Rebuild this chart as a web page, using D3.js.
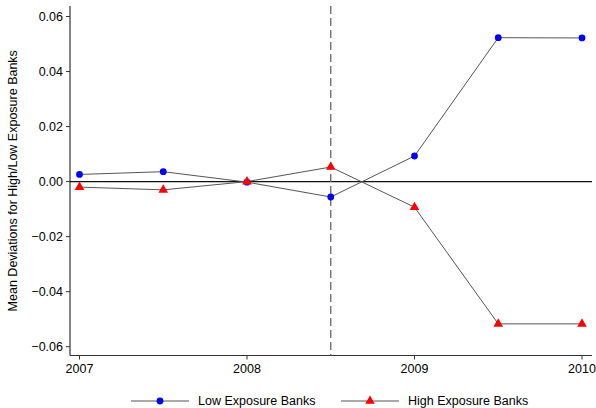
<!DOCTYPE html>
<html>
<head>
<meta charset="utf-8">
<script src="https://cdn.jsdelivr.net/npm/d3@7"></script>
<style>
  body { margin: 0; background: #fff; }
  text { font-family: "Liberation Sans", Arial, sans-serif; fill: #000; }
</style>
</head>
<body>
<svg id="chart" width="596" height="408"></svg>
<script>
// data
const periods = [2007, 2007.5, 2008, 2008.5, 2009, 2009.5, 2010];
const lowExposure = [0.0026, 0.0036, -0.0002, -0.0056, 0.0093, 0.0523, 0.0522];
const highExposure = [-0.0020, -0.0030, 0.0000, 0.0053, -0.0093, -0.0517, -0.0517];
const xTickValues = [2007, 2008, 2009, 2010];
const yTickValues = [-0.06, -0.04, -0.02, 0, 0.02, 0.04, 0.06];
const eventDate = 2008.5;
const seriesNames = ['Low Exposure Banks', 'High Exposure Banks'];

const svg = d3.select('#chart');
const plot = { left: 70, right: 592, top: 6, bottom: 355.5 };
const fontSize = '12.5px';

const x = d3.scaleLinear().domain([2007, 2010]).range([79.5, 582]);
const y = d3.scaleLinear().domain([-0.06, 0.06]).range([346.7, 16.5]);

// axes
const yAxis = svg.append('g').attr('transform', `translate(${plot.left},0)`);
yAxis.append('line')
    .attr('x1', 0).attr('x2', 0).attr('y1', plot.top).attr('y2', plot.bottom)
    .attr('stroke', '#333').attr('stroke-width', 1.2);
yTickValues.forEach(v => {
    yAxis.append('line')
        .attr('x1', -4).attr('x2', 0).attr('y1', y(v)).attr('y2', y(v))
        .attr('stroke', '#333');
    yAxis.append('text')
        .attr('x', -7).attr('y', y(v)).attr('dy', '0.35em')
        .attr('text-anchor', 'end').attr('font-size', fontSize)
        .text(d3.format('.2f')(v));
});

const xAxis = svg.append('g').attr('transform', `translate(0,${plot.bottom})`);
xAxis.append('line')
    .attr('x1', plot.left).attr('x2', plot.right).attr('y1', 0).attr('y2', 0)
    .attr('stroke', '#333').attr('stroke-width', 1.2);
xTickValues.forEach(v => {
    xAxis.append('line')
        .attr('x1', x(v)).attr('x2', x(v)).attr('y1', 0).attr('y2', 4)
        .attr('stroke', '#333');
    xAxis.append('text')
        .attr('x', x(v)).attr('y', 17)
        .attr('text-anchor', 'middle').attr('font-size', fontSize)
        .text(v);
});

svg.append('text')
    .attr('transform', `translate(17,${(plot.top + plot.bottom) / 2}) rotate(-90)`)
    .attr('text-anchor', 'middle').attr('font-size', fontSize)
    .text('Mean Deviations for High/Low Exposure Banks');

// zero line
svg.append('line')
    .attr('x1', plot.left).attr('x2', plot.right).attr('y1', y(0)).attr('y2', y(0))
    .attr('stroke', '#111').attr('stroke-width', 1.2);

// event line
svg.append('line')
    .attr('x1', x(eventDate)).attr('x2', x(eventDate)).attr('y1', plot.top).attr('y2', plot.bottom)
    .attr('stroke', '#666').attr('stroke-width', 1.3)
    .attr('stroke-dasharray', '8,4');

const line = d3.line()
    .x((d, i) => x(periods[i]))
    .y(d => y(d));

svg.append('path')
    .datum(lowExposure)
    .attr('d', line)
    .attr('fill', 'none').attr('stroke', '#555').attr('stroke-width', 1);
svg.append('path')
    .datum(highExposure)
    .attr('d', line)
    .attr('fill', 'none').attr('stroke', '#555').attr('stroke-width', 1);

const circle = d3.symbol().type(d3.symbolCircle).size(36);
const triangle = d3.symbol().type(d3.symbolTriangle).size(40);

svg.selectAll('.low-pt')
    .data(lowExposure)
    .enter().append('path')
    .attr('class', 'low-pt')
    .attr('transform', (d, i) => `translate(${x(periods[i])},${y(d)})`)
    .attr('d', circle)
    .attr('fill', '#0000ff');

svg.selectAll('.high-pt')
    .data(highExposure)
    .enter().append('path')
    .attr('class', 'high-pt')
    .attr('transform', (d, i) => `translate(${x(periods[i])},${y(d)})`)
    .attr('d', triangle)
    .attr('fill', '#ff0000');

// legend
const legendY = 401;
const legend = [
    { name: seriesNames[0], x0: 131, sym: circle, color: '#0000ff' },
    { name: seriesNames[1], x0: 341, sym: triangle, color: '#ff0000' }
];
legend.forEach(l => {
    svg.append('line')
        .attr('x1', l.x0).attr('x2', l.x0 + 58).attr('y1', legendY).attr('y2', legendY)
        .attr('stroke', '#555');
    svg.append('path')
        .attr('transform', `translate(${l.x0 + 29},${legendY})`)
        .attr('d', l.sym)
        .attr('fill', l.color);
    svg.append('text')
        .attr('x', l.x0 + 67).attr('y', legendY).attr('dy', '0.35em')
        .attr('font-size', fontSize)
        .text(l.name);
});
</script>
</body>
</html>
